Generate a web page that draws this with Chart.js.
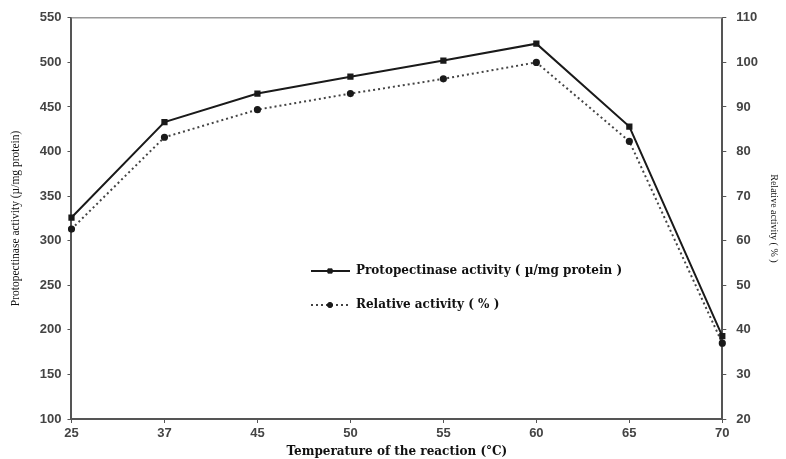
<!DOCTYPE html>
<html>
<head>
<meta charset="utf-8">
<script src="https://cdn.jsdelivr.net/npm/chart.js@4.4.1/dist/chart.umd.min.js"></script>
<style>
  html, body { margin: 0; padding: 0; background: #fff; }
  #wrap { width: 786px; height: 459px; }
</style>
</head>
<body>
<div id="wrap"><canvas id="chart" width="786" height="459"></canvas></div>
<script>
// === Data ===
const temperatures = ['25', '37', '45', '50', '55', '60', '65', '70'];
const protopectinase = [326, 433, 465, 484, 502, 521, 428, 193];   // µ/mg protein
const relativeActivity = [62.6, 83.2, 89.4, 93, 96.3, 100, 82.3, 37]; // %

const seriesNames = ['Protopectinase activity ( \u00b5/mg protein )', 'Relative activity ( % )'];

// === Plugins ===
// gray frame line along the top of the plot
const topBorder = {
    id: 'topBorder',
    afterDraw(chart) {
        const { ctx, chartArea } = chart;
        ctx.save();
        ctx.strokeStyle = '#9a9a9a';
        ctx.lineWidth = 1.5;
        ctx.beginPath();
        ctx.moveTo(chartArea.left, chartArea.top);
        ctx.lineTo(chartArea.right, chartArea.top);
        ctx.stroke();
        ctx.restore();
    }
};

// legend drawn inside the plot, like the original figure
const innerLegend = {
    id: 'innerLegend',
    afterDraw(chart) {
        const { ctx } = chart;
        const x0 = 311, rows = [271, 305];
        ctx.save();
        chart.data.datasets.forEach((ds, i) => {
            const y = rows[i];
            ctx.strokeStyle = ds.borderColor;
            ctx.lineWidth = ds.borderWidth;
            ctx.setLineDash(ds.borderDash || []);
            ctx.beginPath();
            ctx.moveTo(x0, y);
            ctx.lineTo(x0 + 39, y);
            ctx.stroke();
            ctx.setLineDash([]);
            ctx.fillStyle = ds.pointBackgroundColor;
            ctx.strokeStyle = ds.pointBorderColor;
            ctx.lineWidth = 1;
            Chart.helpers.drawPoint(ctx, {
                pointStyle: ds.pointStyle,
                radius: ds.pointRadius,
                rotation: 0,
                borderWidth: 1
            }, x0 + 19, y);
            ctx.fillStyle = '#111';
            ctx.font = 'bold 12px "DejaVu Serif"';
            ctx.textBaseline = 'middle';
            ctx.fillText(ds.label, x0 + 45, y);
        });
        ctx.restore();
    }
};

// === Chart ===
const tickFont = { family: 'Liberation Sans', size: 13, weight: 'bold' };

new Chart(document.getElementById('chart').getContext('2d'), {
    type: 'line',
    data: {
        labels: temperatures,
        datasets: [
            {
                label: seriesNames[0],
                data: protopectinase,
                yAxisID: 'y',
                borderColor: '#1a1a1a',
                borderWidth: 2,
                pointStyle: 'rect',
                pointRadius: 3,
                pointBackgroundColor: '#1a1a1a',
                pointBorderColor: '#1a1a1a',
                tension: 0,
                fill: false
            },
            {
                label: seriesNames[1],
                data: relativeActivity,
                yAxisID: 'y1',
                borderColor: '#444',
                borderWidth: 2,
                borderDash: [2, 3],
                pointStyle: 'circle',
                pointRadius: 2.6,
                pointBackgroundColor: '#1a1a1a',
                pointBorderColor: '#1a1a1a',
                tension: 0,
                fill: false
            }
        ]
    },
    options: {
        responsive: false,
        animation: false,
        layout: { padding: { top: 14, right: 4, left: 9, bottom: 0 } },
        plugins: {
            legend: { display: false },
            tooltip: { enabled: false }
        },
        scales: {
            x: {
                offset: false,
                border: { display: true, color: '#555', width: 2 },
                grid: { drawOnChartArea: false, drawTicks: true, tickLength: 4, color: '#555' },
                ticks: { color: '#444', font: tickFont, padding: 3, maxRotation: 0 },
                title: {
                    display: true,
                    text: 'Temperature of the reaction (\u00b0C)',
                    color: '#111',
                    font: { family: 'DejaVu Serif', size: 12, weight: 'bold' },
                    padding: { top: 0, bottom: 0 }
                }
            },
            y: {
                position: 'left',
                min: 100,
                max: 550,
                border: { display: true, color: '#555', width: 2 },
                grid: { drawOnChartArea: false, drawTicks: true, tickLength: 4, color: '#555' },
                ticks: { stepSize: 50, color: '#444', font: tickFont, padding: 6 },
                title: {
                    display: true,
                    text: 'Protopectinase activity (\u00b5/mg protein)',
                    color: '#111',
                    font: { family: 'Liberation Serif', size: 11.5 },
                    padding: { top: 0, bottom: 11 }
                }
            },
            y1: {
                position: 'right',
                min: 20,
                max: 110,
                border: { display: true, color: '#555', width: 2 },
                grid: { drawOnChartArea: false, drawTicks: true, tickLength: 4, color: '#555' },
                ticks: { stepSize: 10, color: '#444', font: tickFont, padding: 10 },
                title: {
                    display: true,
                    text: 'Relative activity ( % )',
                    color: '#111',
                    font: { family: 'Liberation Serif', size: 10 },
                    padding: { top: 2, bottom: 0 }
                }
            }
        }
    },
    plugins: [topBorder, innerLegend]
});
</script>
</body>
</html>
